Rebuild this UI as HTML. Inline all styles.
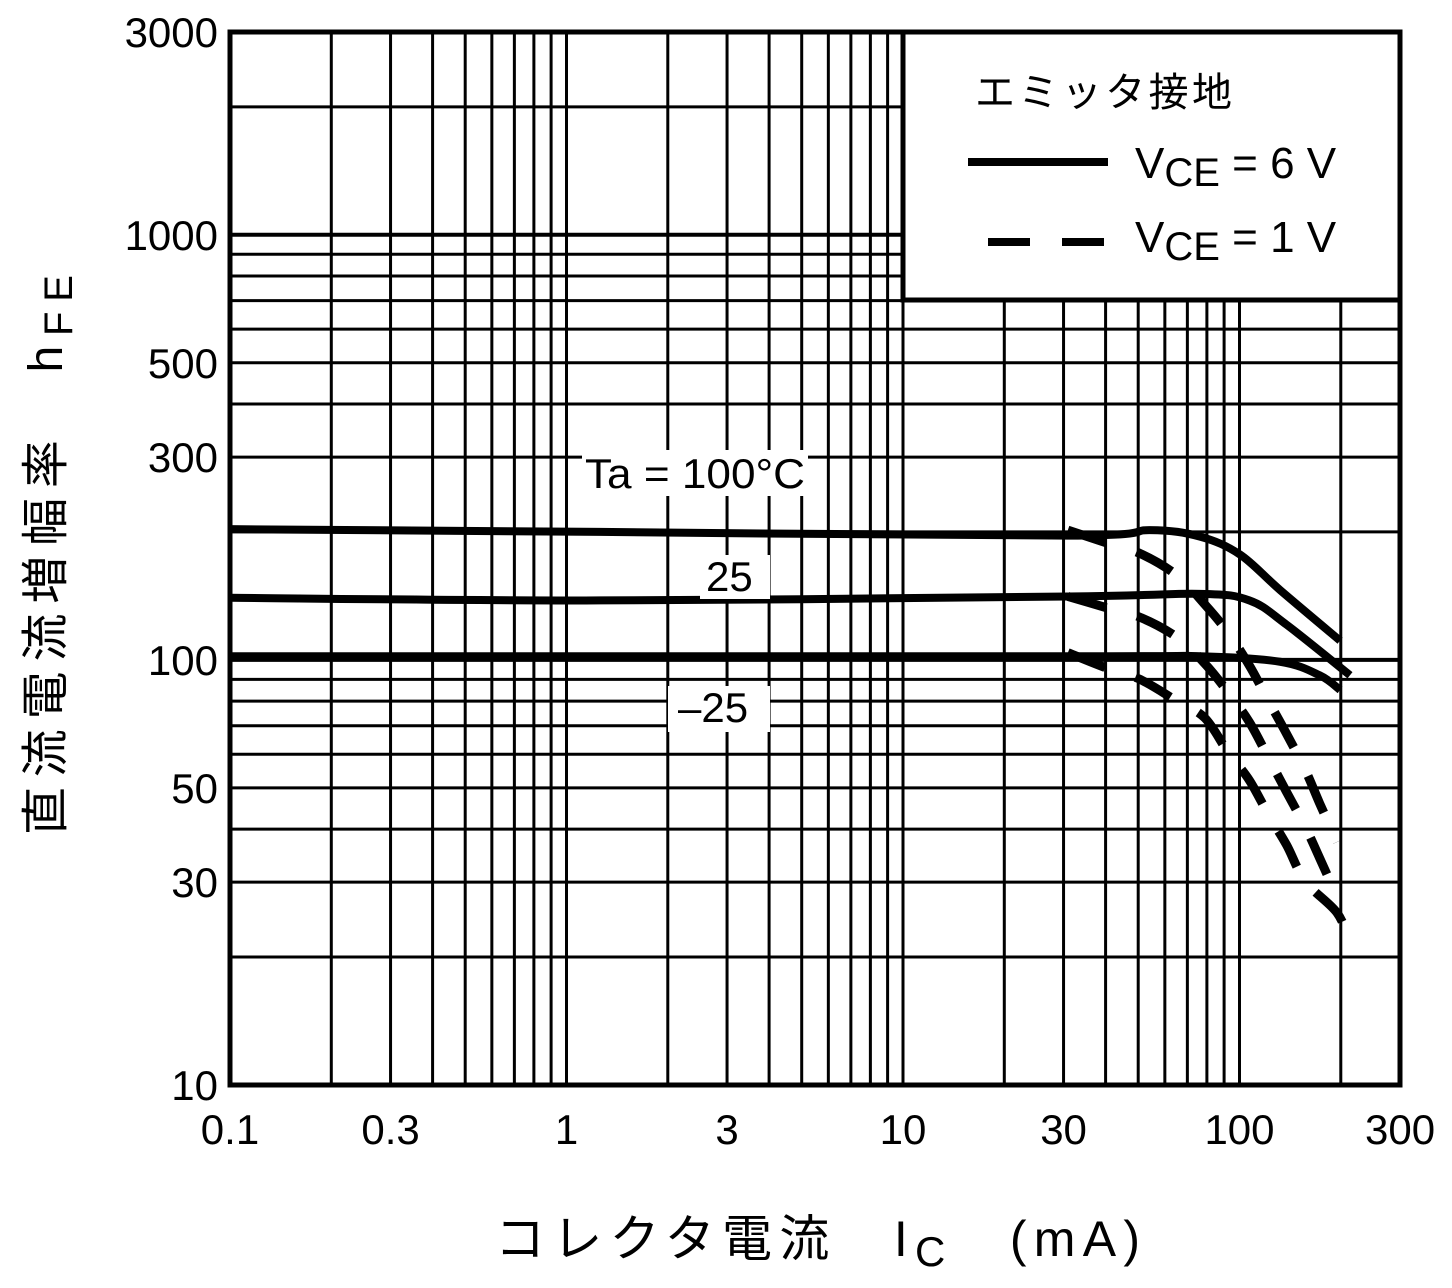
<!DOCTYPE html>
<html><head><meta charset="utf-8"><style>
body{margin:0;background:#fff;}
svg{display:block;font-family:"Liberation Sans","Noto Sans CJK JP",sans-serif;}
</style></head><body>
<svg id="chart" width="1452" height="1288" viewBox="0 0 1452 1288" xmlns="http://www.w3.org/2000/svg">
<g id="grid"></g>
<g id="series"></g>
<rect x="230" y="32" width="1170" height="1053" fill="none" stroke="#000" stroke-width="5"/>
<g id="ticks" font-size="42"></g>
<g>
<rect x="903" y="32" width="497" height="268" fill="#fff" stroke="#000" stroke-width="5"/>
<text x="975" y="106" font-size="40" textLength="257" lengthAdjust="spacing">エミッタ接地</text>
<line x1="968" y1="162" x2="1108" y2="162" stroke="#000" stroke-width="8"/>
<text x="1135" y="178" font-size="44">V<tspan font-size="40" dy="8">CE</tspan><tspan dy="-8"> = 6 V</tspan></text>
<line x1="988" y1="242" x2="1108" y2="242" stroke="#000" stroke-width="8" stroke-dasharray="42,32"/>
<text x="1135" y="252" font-size="44">V<tspan font-size="40" dy="8">CE</tspan><tspan dy="-8"> = 1 V</tspan></text>
</g>
<g font-size="42">
<rect x="582" y="450" width="226" height="46" fill="#fff"/>
<text x="585" y="488" textLength="220" lengthAdjust="spacingAndGlyphs">Ta = 100°C</text>
<rect x="700" y="555" width="70" height="44" fill="#fff"/>
<text x="706" y="591">25</text>
<rect x="668" y="686" width="102" height="46" fill="#fff"/>
<text x="678" y="722">–25</text>
</g>
<text transform="translate(62,835) rotate(-90)" font-size="48" textLength="560" lengthAdjust="spacing">直流電流増幅率　h<tspan font-size="40" dy="10">FE</tspan></text>
<text x="495" y="1256" font-size="50" textLength="645" lengthAdjust="spacing">コレクタ電流　I<tspan font-size="42" dy="10">C</tspan><tspan dy="-10">　(mA)</tspan></text>
</svg>
<script>
const xTicks=[0.1,0.3,1,3,10,30,100,300];
const xTickLabels=["0.1","0.3","1","3","10","30","100","300"];
const yTicks=[10,30,50,100,300,500,1000,3000];
const yTickLabels=["10","30","50","100","300","500","1000","3000"];
const solid100x=[0.1,1.26,30.9,54.2,76.3,100.3,132,199];
const solid100y=[203,200,196,202,195,177,146,111];
const solid25x=[0.1,1.26,30.9,76.3,107,138,213];
const solid25y=[140,138,141,143,138,121,92];
const solidm25x=[0.1,30.9,76.3,132,173,199];
const solidm25y=[102,102,102,99,92,85];
const dash100x=[30.9,39.8,50.6,65.2,78.9,92.4,107,122,138,157,173,195];
const dash100y=[202,189,178,158,135,116,97,80,67,55,46,37.3];
const dash25x=[30.9,39.8,50.6,65.2,78.9,92.4,107,122,138,157,173,195];
const dash25y=[141,133,126,113,98,84,71.4,58.8,48.9,40.4,34.2,27.7];
const dashm25x=[30.9,39.8,50.6,65.2,78.9,92.4,107,122,138,157,195,213];
const dashm25y=[104,96,90,80,73,60.7,52.1,43.2,36.7,30.1,25.4,21.6];

const NS="http://www.w3.org/2000/svg";
const X=v=>230+Math.log10(v/0.1)*336.5;
const Y=v=>1085-Math.log10(v/10)*425.1;
const grid=document.getElementById('grid');
function mk(tag,attrs,parent){const e=document.createElementNS(NS,tag);for(const k in attrs)e.setAttribute(k,attrs[k]);parent.appendChild(e);return e;}
for(let d=0.1;d<200;d*=10){for(let m=1;m<10;m++){const v=d*m;if(v>=300)break;const l=mk('line',{x1:X(v),x2:X(v),y1:32,y2:1085,stroke:'#000','stroke-width':3},grid);

}}
for(let d=10;d<2000;d*=10){for(let m=1;m<10;m++){const v=d*m;if(v>=3000)break;const l=mk('line',{x1:230,x2:1400,y1:Y(v),y2:Y(v),stroke:'#000','stroke-width':(m===1?4:3)},grid);

}}
const ticks=document.getElementById('ticks');
xTicks.forEach((v,i)=>{const t=mk('text',{x:X(v),y:1144,'text-anchor':'middle'},ticks);t.textContent=xTickLabels[i];

});
yTicks.forEach((v,i)=>{const t=mk('text',{x:218,y:Y(v)+15,'text-anchor':'end'},ticks);t.textContent=yTickLabels[i];

});
function path(xs,ys){const p=xs.map((x,i)=>[X(x),Y(ys[i])]);let d=`M${p[0][0]},${p[0][1]}`;
for(let i=0;i<p.length-1;i++){const p0=p[i-1]||p[i],p1=p[i],p2=p[i+1],p3=p[i+2]||p2;
d+=` C${p1[0]+(p2[0]-p0[0])/6},${p1[1]+(p2[1]-p0[1])/6} ${p2[0]-(p3[0]-p1[0])/6},${p2[1]-(p3[1]-p1[1])/6} ${p2[0]},${p2[1]}`;}return d;}
const ser=document.getElementById('series');
[[solid100x,solid100y,'curve-6v-100c'],[solid25x,solid25y,'curve-6v-25c'],[solidm25x,solidm25y,'curve-6v-minus25c']].forEach(s=>{
const e=mk('path',{d:path(s[0],s[1]),fill:'none',stroke:'#000','stroke-width':8},ser);

});
[[dash100x,dash100y,'curve-1v-100c'],[dash25x,dash25y,'curve-1v-25c'],[dashm25x,dashm25y,'curve-1v-minus25c']].forEach(s=>{
const e=mk('path',{d:path(s[0],s[1]),fill:'none',stroke:'#000','stroke-width':9,'stroke-dasharray':'40,32'},ser);

});
</script>
</body></html>
